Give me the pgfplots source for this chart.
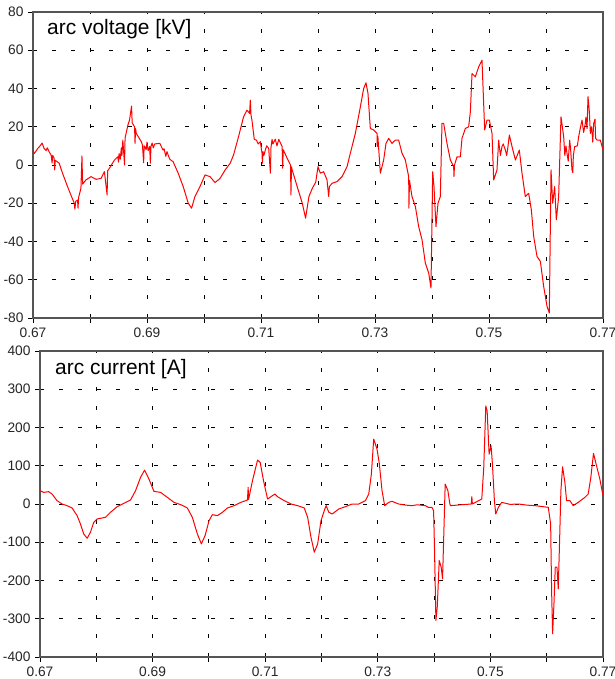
\documentclass[border=0pt]{standalone}
\usepackage{pgfplots}
\pgfplotsset{compat=1.18}
\usepackage{fontspec}
\setmainfont{Liberation Sans}
\definecolor{axgray}{HTML}{555555}
\pgfplotsset{
  panel/.style={
    scale only axis,
    xmin=0.67, xmax=0.77,
    axis line style={axgray, line width=1.1bp},
    every tick/.style={black, line width=0.9bp},
    tick align=outside, major tick length=5bp,
    xtick pos=bottom, ytick pos=left,
    xtick={0.67,0.68,0.69,0.70,0.71,0.72,0.73,0.74,0.75,0.76,0.77},
    xticklabels={0.67,,0.69,,0.71,,0.73,,0.75,,0.77},
    grid=major,
    major grid style={black, dash pattern=on 3.5bp off 15.5bp, line width=0.9bp},
    tick label style={font=\fontsize{13.8}{15}\selectfont, text=black!85},
    xticklabel style={yshift=-1bp},
    yticklabel style={xshift=-1bp},
    clip=true,
  },
}
\tikzset{
  sig/.style={red, line width=1bp, line join=round},
  ttl/.style={anchor=west, fill=white, inner sep=1.5bp, font=\fontsize{21}{23}\selectfont},
}
\begin{document}
\begin{tikzpicture}
\useasboundingbox (0,0) rectangle (615bp,679bp);
% ---------------- top panel: arc voltage ----------------
\begin{axis}[panel, at={(33bp,361bp)}, anchor=south west,
  width=570bp, height=306bp,
  ymin=-80, ymax=80,
  ytick={-80,-60,-40,-20,0,20,40,60,80},
  yticklabels={-80,-60,-40,-20,0,20,40,60,80}]
\addplot[sig, mark=none] coordinates {
(0.6700,7.8) (0.67020,6.0) (0.67047,7.0) (0.67080,8.5) (0.67110,9.5) (0.67135,10.4)
(0.67160,11.5) (0.67194,8.7) (0.67230,7.5) (0.67250,9) (0.67282,7.0) (0.67320,5)
(0.67335,1) (0.67345,5) (0.67371,3.5)
(0.67380,-2.6) (0.67390,2.5) (0.67459,0.9) (0.67518,-4.3) (0.67606,-11.3) (0.67665,-15.7)
(0.67724,-20.0) (0.67735,-23.1) (0.67750,-19) (0.67782,-18.3) (0.67790,-22.6) (0.67800,-17)
(0.67841,-12.2) (0.67859,4.7) (0.67870,-10) (0.67929,-7.8) (0.68018,-6.1) (0.68106,-7.5)
(0.68194,-7.0) (0.68253,-3.5) (0.68300,-15.7) (0.68310,-3) (0.68341,-1.7) (0.68429,2.6)
(0.68488,4.3) (0.68500,1.5) (0.68510,6) (0.68530,3) (0.68550,9) (0.68560,5)
(0.68576,13.0) (0.68606,0) (0.68615,14) (0.68665,20.9) (0.68694,23.5)
(0.68729,30.8) (0.68740,22) (0.68782,20.0) (0.68790,11.3) (0.68800,19) (0.68812,16.5)
(0.68900,12.2) (0.68920,10.5) (0.68941,1.2) (0.68950,10) (0.68959,9.6) (0.68985,8)
(0.69000,12) (0.69020,7.5) (0.69047,9.6) (0.69059,0.9)
(0.69070,9.8) (0.69090,11.5) (0.69110,9) (0.69135,11.0) (0.69224,11.3) (0.69282,7.8)
(0.69300,8.5) (0.69330,4.5) (0.69350,7) (0.69371,5.2) (0.69400,3) (0.69459,1.7)
(0.69547,-4.3) (0.69635,-11.3) (0.69724,-20.0) (0.69782,-22.6) (0.69841,-16.5) (0.69929,-11.3)
(0.70018,-5.2) (0.70106,-6.1) (0.70194,-9.2) (0.70282,-7.0) (0.70371,-2.6) (0.70459,0.9)
(0.70518,5.2) (0.70606,14.8) (0.70694,25.2) (0.70753,28.7) (0.70800,27.0) (0.70812,33.9)
(0.70825,26) (0.70841,23.5) (0.70882,13.4) (0.70920,13) (0.70950,11) (0.70988,12.2)
(0.71018,6.1) (0.71025,0.9)
(0.71035,7) (0.71050,5) (0.71076,7.8) (0.71100,10) (0.71135,8.7) (0.71165,-4.3)
(0.71175,9) (0.71194,13.4) (0.71210,11) (0.71250,13.5) (0.71280,10)
(0.71312,13.4) (0.71371,9.6) (0.71380,-1.7) (0.71390,8) (0.71459,3.5) (0.71518,0)
(0.71525,-15.7) (0.71535,-1) (0.71547,-2.6) (0.71635,-11.3) (0.71724,-20.0) (0.71782,-27.8)
(0.71841,-16.5) (0.71900,-12.2) (0.71960,-9) (0.72000,-0.9) (0.72041,-4.3) (0.72099,-3.5)
(0.72158,-7.8) (0.72187,-16.5) (0.72200,-11.3) (0.72246,-9.6) (0.72333,-8.7) (0.72421,-6.1)
(0.72509,-0.9) (0.72567,6.1) (0.72655,16.5) (0.72743,30.4) (0.72801,40.0) (0.72842,43.0)
(0.72877,37.4) (0.72918,19.1) (0.72977,18.3) (0.73035,16.5) (0.73040,9.6) (0.73050,15)
(0.73094,-4.3) (0.73152,2.6) (0.73193,11.3) (0.73240,13.9) (0.73298,11.3) (0.73357,13.0)
(0.73415,13.0) (0.73474,6.1) (0.73532,2.6) (0.73591,-6.1) (0.73595,-22.6) (0.73605,-8)
(0.73649,-16.5) (0.73708,-21.7) (0.73766,-32.2) (0.73825,-39.1) (0.73883,-51.3) (0.73942,-56.5)
(0.73982,-64.3) (0.74012,-3.5) (0.74035,-11.3) (0.74070,-32.2) (0.74105,-20.0) (0.74146,-16.5)
(0.74175,21.7) (0.74205,21.7) (0.74263,11.3) (0.74322,2.6) (0.74380,-0.9) (0.74385,-6.1)
(0.74395,0) (0.74439,4.3) (0.74497,4.3) (0.74526,13.9) (0.74585,19.1) (0.74643,20.0)
(0.74673,27.8) (0.74702,47.8) (0.74760,46.1) (0.74819,51.3) (0.74877,54.8) (0.74895,40.9)
(0.74924,18.3) (0.74965,23.5) (0.75006,23.5) (0.75053,16.5) (0.75082,-7.8) (0.75140,-2.6)
(0.75170,13.0) (0.75180,10) (0.75200,5) (0.75228,9.6) (0.75250,11) (0.75287,7.8)
(0.75310,5) (0.75330,9) (0.75357,15.7) (0.75404,9.6) (0.75463,2.6)
(0.75532,7.8) (0.75579,-4.3) (0.75637,-16.5) (0.75696,-14.8) (0.75743,-23.5) (0.75784,-37.4)
(0.75842,-47.8) (0.75901,-50.4) (0.75959,-63.5) (0.76018,-73.9) (0.76058,-77.4) (0.76088,-2.6)
(0.76117,-20.0) (0.76152,-11.3) (0.76181,-28.7) (0.76222,-16.5) (0.76263,25.2) (0.76310,14.8)
(0.76330,5) (0.76350,10) (0.76368,6.1) (0.76390,2) (0.76415,13.0) (0.76430,9)
(0.76456,-2.6) (0.76470,-4) (0.76480,5) (0.76503,9.6) (0.76550,10) (0.76573,14.8)
(0.76600,19) (0.76632,23.5) (0.76660,17) (0.76690,21.7) (0.76700,25) (0.76720,19)
(0.76737,35.7) (0.76760,28) (0.76778,16.5) (0.76800,20) (0.76820,12) (0.76836,21.7)
(0.76860,24) (0.76870,14) (0.76895,13.0) (0.76953,13.0)
(0.77000,7.8)
};
\node[ttl] at (rel axis cs:0.022,0.945) {arc voltage [kV]};
\end{axis}
% ---------------- bottom panel: arc current ----------------
\begin{axis}[panel, at={(40bp,22bp)}, anchor=south west,
  width=563bp, height=306bp,
  ymin=-400, ymax=400,
  ytick={-400,-300,-200,-100,0,100,200,300,400},
  yticklabels={-400,-300,-200,-100,0,100,200,300,400}]
\addplot[sig, mark=none] coordinates {
(0.6700,34.8) (0.67065,30.4) (0.67154,32.2) (0.67214,26.1) (0.67303,8.7) (0.67392,0)
(0.67481,-4.3) (0.67570,-10.4) (0.67659,-30.4) (0.67718,-52.2) (0.67777,-78.3) (0.67837,-89.6)
(0.67896,-73.9) (0.67955,-47.8) (0.68015,-39.1) (0.68104,-36.5) (0.68163,-34.8) (0.68252,-21.7)
(0.68371,-7.0) (0.68490,1.7) (0.68608,10.4) (0.68697,34.8) (0.68786,69.6) (0.68858,88.7)
(0.68935,65.2) (0.69024,33.0) (0.69142,30.4) (0.69261,17.4) (0.69380,4.3) (0.69499,-1.7)
(0.69617,-10.4) (0.69706,-34.8) (0.69795,-78.3) (0.69866,-104.3) (0.69932,-82.6) (0.70003,-43.5)
(0.70062,-27.8) (0.70151,-30.4) (0.70240,-21.7) (0.70329,-10.4) (0.70448,-4.3) (0.70567,4.3)
(0.70685,10.4) (0.70697,43.5) (0.70705,12) (0.70774,60.9) (0.70864,114.8) (0.70911,108.7)
(0.70970,60.9) (0.71042,13.0) (0.71101,19.1) (0.71172,26.1) (0.71220,19.1) (0.71338,8.7)
(0.71457,0) (0.71576,-4.3) (0.71694,-10.4) (0.71754,-34.8) (0.71813,-87.0) (0.71872,-126.1)
(0.71932,-104.3) (0.71991,-43.5) (0.72059,-13.0) (0.72083,-4.3) (0.72130,-21.7) (0.72189,-26.1)
(0.72307,-13.0) (0.72425,-7.0) (0.72543,0) (0.72662,0) (0.72780,8.7) (0.72839,26.1)
(0.72886,78.3) (0.72927,169.6) (0.72986,143.5) (0.73028,104.3) (0.73075,34.8) (0.73122,-4.3)
(0.73193,4.3) (0.73252,7.0) (0.73370,0) (0.73500,-3) (0.73607,-4.3) (0.73700,-2)
(0.73843,-4.3) (0.73900,-9) (0.73961,-8.7) (0.73991,-17.4) (0.74008,-121.7) (0.74032,-304.3)
(0.74056,-269.6) (0.74091,-147.8) (0.74126,-165.2) (0.74150,-195.7) (0.74174,-69.6) (0.74197,52.2)
(0.74245,34.8) (0.74280,0) (0.74292,-4.3) (0.74434,-2.6) (0.74660,0) (0.74670,19.1)
(0.74680,0) (0.74847,13.0) (0.74882,95.7) (0.74918,256.5) (0.74942,243.5) (0.74977,130.4)
(0.75012,152.2) (0.75036,104.3) (0.75071,8.7) (0.75095,-26.1) (0.75142,-8.7) (0.75201,4.3)
(0.75350,-1) (0.75497,0) (0.75650,-3) (0.75792,-4.3) (0.76028,-8.7) (0.76070,-52.2)
(0.76087,-226.1) (0.76105,-339.1) (0.76129,-260.9) (0.76152,-165.2) (0.76182,-165.2) (0.76205,-221.7)
(0.76229,-95.7) (0.76252,34.8) (0.76282,97.4) (0.76323,56.5) (0.76353,8.7) (0.76412,8.7)
(0.76471,-4.3) (0.76560,4.3) (0.76678,17.4) (0.76737,26.1) (0.76784,69.6) (0.76831,132.2)
(0.76885,100) (0.76944,65.2) (0.77000,21.7)
};
\node[ttl] at (rel axis cs:0.024,0.94) {arc current [A]};
\end{axis}
\end{tikzpicture}
\end{document}
